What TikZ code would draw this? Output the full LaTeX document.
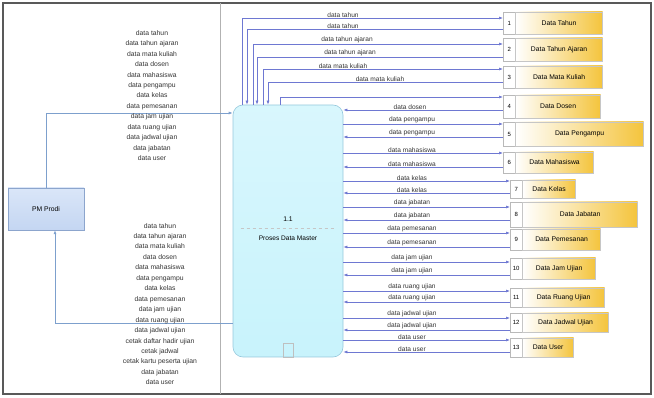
\documentclass[tikz,border=0pt]{standalone}
\usepackage{fontspec}
\setmainfont{Liberation Sans}
\usetikzlibrary{arrows.meta,calc}
\definecolor{flowc}{RGB}{110,120,210}
\definecolor{leftc}{RGB}{125,160,205}
\definecolor{gold}{RGB}{244,196,60}
\definecolor{procfill}{RGB}{200,243,252}
\definecolor{procline}{RGB}{150,200,220}
\definecolor{entline}{RGB}{140,165,205}
\begin{document}
\begin{tikzpicture}[x=1pt,y=-1pt,
  flow/.style={draw=flowc, line width=0.6pt},
  leftflow/.style={draw=leftc, line width=0.7pt},
  tip/.style={-{Latex[length=4pt,width=3pt]}},
  lbl/.style={font=\fontsize{6.6}{7.5}\selectfont, inner sep=0.5pt, anchor=south, text=black!80},
  listlbl/.style={font=\fontsize{6.8}{10.45}\selectfont, inner sep=0pt, align=center, text=black!80},
  numbox/.style={draw=gray!55, fill=white, minimum width=12pt, inner sep=0pt, anchor=west, font=\fontsize{6}{7}\selectfont},
  storebox/.style={draw=gray!45, left color=white, right color=gold, inner sep=0pt, anchor=west, font=\fontsize{6.8}{8}\selectfont},
  proc/.style={draw=procline, top color=procfill!70!white, bottom color=procfill, rounded corners=10pt, line width=0.6pt},
  ent/.style={draw=entline, top color={rgb,255:red,218;green,230;blue,248}, bottom color={rgb,255:red,196;green,214;blue,242}, font=\fontsize{6.8}{8}\selectfont}]
\useasboundingbox (0,0) rectangle (654,398);
% frame
\draw[gray!70!black, line width=1.2pt] (3,3) rectangle (651,394);
\draw[gray!60, line width=0.8pt] (220,3) -- (220,394);

% external entity
\node[ent, minimum width=76pt, minimum height=42pt] (e) at (46,209) {PM Prodi};

% process
\node[proc, minimum width=110pt, minimum height=252pt] (p) at (288,231) {};
\node[font=\fontsize{6.8}{8}\selectfont, inner sep=0pt] (pnum) at (288,219) {1.1};
\draw[gray!45, dashed] ([xshift=8pt]p.west |- 0,228) -- ([xshift=-8pt]p.east |- 0,228);
\node[font=\fontsize{6.6}{8}\selectfont, inner sep=0pt] (ptitle) at (288,238) {Proses Data Master};
\node[draw=gray!50, minimum width=10pt, minimum height=14pt, inner sep=0pt, anchor=south] (pmark) at (p.south) {};

% stores
\foreach \i/\xl/\yt/\yb/\xr/\name in {1/503/12/34/602/Data Tahun,2/503/38/61/602/Data Tahun Ajaran,3/503/66/88/602/Data Mata Kuliah,4/503/95/118/600/Data Dosen,5/503/122/146/643/Data Pengampu,6/503/152/173/593/Data Mahasiswa,7/510/180/198/575/Data Kelas,8/510/202/227/637/Data Jabatan,9/510/229/250/600/Data Pemesanan,10/510/258/279/595/Data Jam Ujian,11/510/288/307/604/Data Ruang Ujian,12/510/313/332/608/Data Jadwal Ujian,13/510/338/357/573/Data User}{
  \pgfmathsetmacro{\h}{\yb-\yt}
  \pgfmathsetmacro{\yc}{(\yt+\yb)/2}
  \pgfmathsetmacro{\w}{\xr-\xl-12}
  \node[numbox, minimum height=\h pt] (n\i) at (\xl,\yc) {\i};
  \node[storebox, minimum height=\h pt, minimum width=\w pt] (s\i) at (n\i.east) {\name};
}

% flows: stores 1-4 via process top
\draw[flow,tip] (242,0 |- p.north) |- (n1.west |- 0,18);
\draw[flow,tip] (n1.west |- 0,29) -| (247,0 |- p.north);
\draw[flow,tip] (253,0 |- p.north) |- (n2.west |- 0,44);
\draw[flow,tip] (n2.west |- 0,57) -| (257,0 |- p.north);
\draw[flow,tip] (263,0 |- p.north) |- (n3.west |- 0,69);
\draw[flow,tip] (n3.west |- 0,82) -| (268,0 |- p.north);
\draw[flow,tip] (280,0 |- p.north) |- (n4.west |- 0,97);
\draw[flow,tip] (n4.west |- 0,110) -- (p.east |- 0,110);
\node[lbl] (t1a) at (343,18) {data tahun};
\node[lbl] (t1b) at (343,29) {data tahun};
\node[lbl] (t2a) at (347,44) {data tahun ajaran};
\node[lbl] (t2b) at (350,57) {data tahun ajaran};
\node[lbl] (t3a) at (343,69) {data mata kuliah};
\node[lbl] (t3b) at (380,82) {data mata kuliah};
\node[lbl] (t4b) at (410,110) {data dosen};

% flows: stores 5-13 via process right side
\foreach \i/\ya/\yb/\txt in {5/124/137/data pengampu,6/153/167/data mahasiswa,7/181/193/data kelas,8/207/220/data jabatan,9/233/247/data pemesanan,10/262/275/data jam ujian,11/291/302/data ruang ujian,12/318/330/data jadwal ujian,13/340/352/data user}{
  \draw[flow,tip] (p.east |- 0,\ya) -- (n\i.west |- 0,\ya);
  \draw[flow,tip] (n\i.west |- 0,\yb) -- (p.east |- 0,\yb);
  \node[lbl] (la\i) at (412,\ya) {\txt};
  \node[lbl] (lb\i) at (412,\yb) {\txt};
}

% entity <-> process
\draw[leftflow,tip] (e.north) |- (p.west |- 0,113);
\draw[leftflow,tip] (p.west |- 0,323) -| ([xshift=9pt]e.south);

\node[listlbl] (toplist) at (152,95.5) {data tahun\\data tahun ajaran\\data mata kuliah\\data dosen\\data mahasiswa\\data pengampu\\data kelas\\data pemesanan\\data jam ujian\\data ruang ujian\\data jadwal ujian\\data jabatan\\data user};
\node[listlbl] (botlist) at (160,304) {data tahun\\data tahun ajaran\\data mata kuliah\\data dosen\\data mahasiswa\\data pengampu\\data kelas\\data pemesanan\\data jam ujian\\data ruang ujian\\data jadwal ujian\\cetak daftar hadir ujian\\cetak jadwal\\cetak kartu peserta ujian\\data jabatan\\data user};
\end{tikzpicture}
\end{document}
